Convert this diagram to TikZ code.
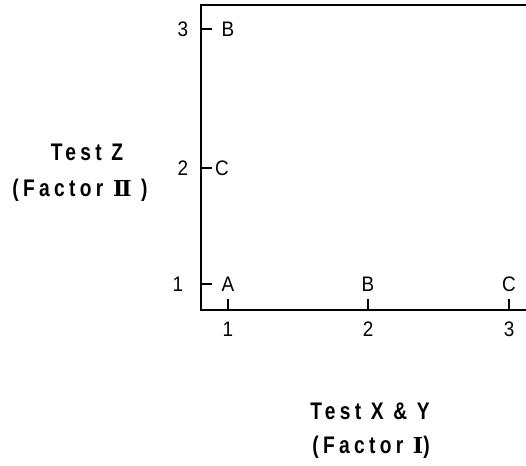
\documentclass[tikz,border=0pt]{standalone}
\usepackage{fontspec}
\setmainfont{Liberation Sans}
\newfontfamily\titlefont[LetterSpace=18,FakeStretch=0.8]{Liberation Sans}
\newfontfamily\numfont[FakeStretch=0.9]{Liberation Sans}
\newfontfamily\romfont{DejaVu Serif}
\begin{document}
\begin{tikzpicture}[x=1pt,y=1pt,
  axis/.style={line width=1.8pt},
  tick/.style={line width=1.5pt},
  lbl/.style={font=\numfont\fontsize{21}{21}\selectfont, inner sep=0pt},
  ttl/.style={font=\titlefont\bfseries\fontsize{24}{24}\selectfont, inner sep=0pt}]
\useasboundingbox (0,0) rectangle (526,-465);
% axes
\coordinate (tl) at (201,-5);
\coordinate (tr) at (526,-5);
\coordinate (bl) at (201,-310);
\coordinate (br) at (526,-310);
\draw[axis] (tr) -- (tl) -- (bl) -- (br);
% y ticks
\foreach \y/\n in {-29/3,-168/2,-284/1} {
  \coordinate (yt\n) at (201,\y);
  \coordinate (ye\n) at (212,\y);
  \draw[tick] (yt\n) -- (ye\n);
}
\node[lbl] (y3) at (183,-29) {3};
\node[lbl] (y2) at (183,-168) {2};
\node[lbl] (y1) at (178,-284) {1};
\node[lbl] (lB3) at (228,-29) {B};
\node[lbl] (lC2) at (222,-168) {C};
% x ticks
\foreach \x/\n in {228/1,368/2,509/3} {
  \coordinate (xt\n) at (\x,-310);
  \coordinate (xe\n) at (\x,-299);
  \draw[tick] (xt\n) -- (xe\n);
}
\node[lbl] (lA) at (228,-284) {A};
\node[lbl] (lB) at (368,-284) {B};
\node[lbl] (lC) at (509,-284) {C};
\node[lbl] (x1) at (228,-329) {1};
\node[lbl] (x2) at (368,-329) {2};
\node[lbl] (x3) at (509,-329) {3};
% titles
\node[ttl] (tz) at (87,-152) {Test Z};
\node[ttl] (fz) at (80,-190) {(Factor {\romfont\bfseries\fontsize{22}{22}\selectfont Ⅱ} )};
\node[ttl] (txy) at (370,-411) {Test X \& Y};
\node[ttl] (fxy) at (371,-447) {(Factor {\romfont\bfseries\fontsize{22}{22}\selectfont Ⅰ})};
\end{tikzpicture}
\end{document}
